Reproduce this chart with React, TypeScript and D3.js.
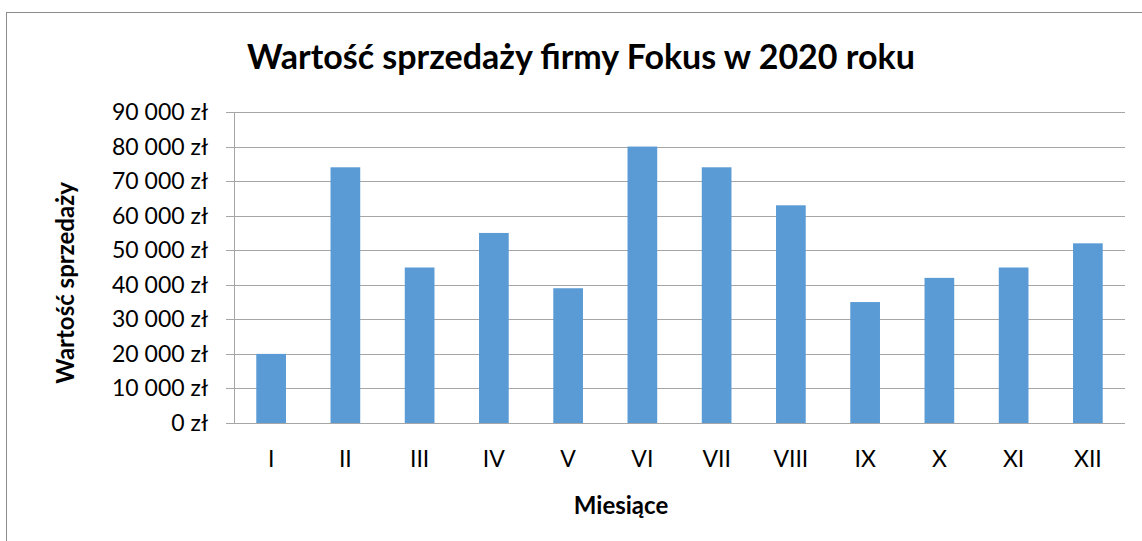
import * as React from 'react';
import * as d3 from 'd3';

const months = ['I', 'II', 'III', 'IV', 'V', 'VI', 'VII', 'VIII', 'IX', 'X', 'XI', 'XII'];
const sales = [20000, 74000, 45000, 55000, 39000, 80000, 74000, 63000, 35000, 42000, 45000, 52000];
const yTicks = [0, 10000, 20000, 30000, 40000, 50000, 60000, 70000, 80000, 90000];

const W = 1142;
const H = 541;
const font = 'Lato, "Open Sans", sans-serif';

export default function App() {
  const x = d3.scaleBand<string>().domain(months).range([234, 1125]).paddingInner(0.6).paddingOuter(0.3);
  const y = d3.scaleLinear().domain([0, 90000]).range([423, 112]);
  const fmt = (v: number) => d3.format(',')(v).replace(/,/g, ' ') + ' zł';

  return (
    <svg width={W} height={H} style={{ position: 'absolute', left: 0, top: 0 }} fontFamily={font}>
      <rect x={0} y={0} width={W} height={H} fill="#fff" />
      <rect x={6.5} y={12.5} width={W + 10} height={H + 10} fill="none" stroke="#8c8c8c" strokeWidth={1} />
      <text x={581} y={69} textAnchor="middle" fontSize={34} fontWeight="bold" fill="#000">
        Wartość sprzedaży firmy Fokus w 2020 roku
      </text>
      {yTicks.map(t => (
        <g key={t}>
          <line x1={226} x2={1125} y1={Math.round(y(t)) + 0.5} y2={Math.round(y(t)) + 0.5} stroke="#a6a6a6" />
          <text x={208} y={y(t) + 8} textAnchor="end" fontSize={23} fill="#000">
            {fmt(t)}
          </text>
        </g>
      ))}
      <line x1={234.5} x2={234.5} y1={112} y2={423} stroke="#a6a6a6" />
      {months.map((m, i) => (
        <rect key={m} x={x(m)} y={y(sales[i])} width={x.bandwidth()} height={y(0) - y(sales[i])} fill="#5b9bd5" />
      ))}
      {months.map(m => (
        <text key={m} x={(x(m) as number) + x.bandwidth() / 2} y={467} textAnchor="middle" fontSize={23} fill="#000">
          {m}
        </text>
      ))}
      <text x={621} y={514} textAnchor="middle" fontSize={24} fontWeight="bold" fill="#000">
        Miesiące
      </text>
      <text transform="translate(74,283) rotate(-90)" textAnchor="middle" fontSize={24} fontWeight="bold" fill="#000">
        Wartość sprzedaży
      </text>
    </svg>
  );
}
